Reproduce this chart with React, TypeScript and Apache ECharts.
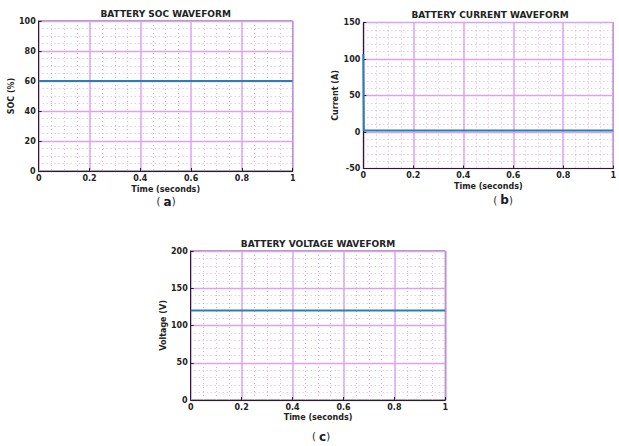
import React, { useEffect, useRef } from "react";
import * as echarts from "echarts";

const socTime = [0, 1];
const socValues = [60, 60];
const currentTime = [0, 0.002, 1];
const currentValues = [107, 2, 2];
const voltageTime = [0, 1];
const voltageValues = [120, 120];

const titles = ["BATTERY SOC WAVEFORM", "BATTERY CURRENT WAVEFORM", "BATTERY VOLTAGE WAVEFORM"];
const yNames = ["SOC (%)", "Current (A)", "Voltage (V)"];
const xName = "Time (seconds)";
const captions = ["a", "b", "c"];
const yRanges = [
  [0, 100, 20, 4],
  [-50, 150, 50, 5],
  [0, 200, 50, 5],
];

const FONT = "DejaVu Sans";
const LINE = "#2a7fb5";
const MAJOR = "#dba2f3";
const MINOR = "#dcb0f0";

const grids = [
  { left: 38.7, top: 21, width: 254, height: 150 },
  { left: 363.3, top: 22.5, width: 254, height: 146 },
  { left: 190.7, top: 251, width: 254.6, height: 149 },
];
const titlePos = [
  [165.7, 13.5],
  [490, 15],
  [318, 244],
];
const captionPos = [
  [166, 201.5],
  [503, 200],
  [321, 436.5],
];
const xNameGap = [14, 14, 13];
const yNameGap = [22, 21.5, 22.4];

export default function App() {
  const ref = useRef<HTMLDivElement>(null);
  useEffect(() => {
    if (!ref.current) return;
    const chart = echarts.init(ref.current, undefined, { renderer: "svg" });
    const seriesData = [
      socTime.map((t, i) => [t, socValues[i]]),
      currentTime.map((t, i) => [t, currentValues[i]]),
      voltageTime.map((t, i) => [t, voltageValues[i]]),
    ];
    const axisLabelStyle = { fontFamily: FONT, fontWeight: "bold" as const, fontSize: 8, color: "#222" };
    chart.setOption({
      animation: false,
      backgroundColor: "#fff",
      grid: grids.map((g) => ({
        ...g,
        show: true,
        borderColor: "#444",
        borderWidth: 1,
        backgroundColor: "transparent",
        containLabel: false,
      })),
      xAxis: grids.map((_, i) => ({
        type: "value",
        gridIndex: i,
        min: 0,
        max: 1,
        interval: 0.2,
        name: xName,
        nameLocation: "middle",
        nameGap: xNameGap[i],
        nameTextStyle: axisLabelStyle,
        axisLine: { show: true, onZero: false, lineStyle: { color: "#222", width: 1 } },
        axisTick: { show: true, inside: true, length: 3, lineStyle: { color: "#222" } },
        axisLabel: { ...axisLabelStyle, margin: 3, showMinLabel: true, showMaxLabel: true },
        splitLine: { show: true, lineStyle: { color: MAJOR, width: 1.5 } },
        minorTick: { show: true, splitNumber: 4, length: 0 },
        minorSplitLine: { show: true, lineStyle: { color: MINOR, type: [1, 3], width: 1 } },
      })),
      yAxis: grids.map((_, i) => ({
        type: "value",
        gridIndex: i,
        min: yRanges[i][0],
        max: yRanges[i][1],
        interval: yRanges[i][2],
        name: yNames[i],
        nameLocation: "middle",
        nameGap: yNameGap[i],
        nameTextStyle: axisLabelStyle,
        axisLine: { show: true, onZero: false, lineStyle: { color: "#222", width: 1 } },
        axisTick: { show: true, inside: true, length: 3, lineStyle: { color: "#222" } },
        axisLabel: { ...axisLabelStyle, margin: 3, showMinLabel: true, showMaxLabel: true },
        splitLine: { show: true, lineStyle: { color: MAJOR, width: 1.4 } },
        minorTick: { show: true, splitNumber: yRanges[i][3], length: 0 },
        minorSplitLine: { show: true, lineStyle: { color: MINOR, type: [1, 3], width: 1 } },
      })),
      series: seriesData.map((d, i) => ({
        type: "line",
        xAxisIndex: i,
        yAxisIndex: i,
        data: d,
        showSymbol: false,
        symbol: "none",
        lineStyle: { color: LINE, width: 2 },
        z: 5,
      })),
      graphic: [
        ...titles.map((t, i) => ({
          type: "text",
          x: titlePos[i][0],
          y: titlePos[i][1],
          style: {
            text: t,
            align: "center",
            verticalAlign: "middle",
            fontFamily: FONT,
            fontWeight: "bold",
            fontSize: 9,
            fill: "#222",
          },
        })),
        ...captions.map((c, i) => ({
          type: "text",
          x: captionPos[i][0],
          y: captionPos[i][1],
          style: {
            text: "{p|( }{l|" + c + "}{p|)}",
            align: "center",
            verticalAlign: "middle",
            rich: {
              p: { fontFamily: FONT, fontSize: 10, fill: "#222", fontWeight: "normal" },
              l: { fontFamily: FONT, fontSize: 12, fill: "#1a1a2a", fontWeight: "bold" },
            },
          },
        })),
      ],
    });
    return () => chart.dispose();
  }, []);
  return (
    <div
      ref={ref}
      style={{ position: "fixed", left: 0, top: 0, width: 619, height: 446, background: "#fff" }}
    />
  );
}
